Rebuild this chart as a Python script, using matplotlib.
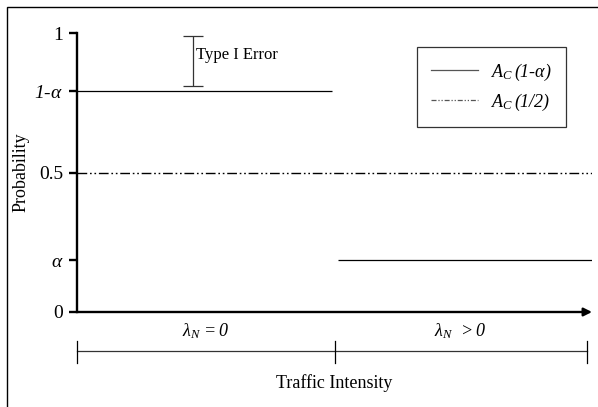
import matplotlib.pyplot as plt
from matplotlib.lines import Line2D
from matplotlib.patches import Rectangle

plt.rcParams['font.family'] = ['Liberation Serif', 'DejaVu Serif']
# every math label in this chart is italic, digits included
plt.rcParams['mathtext.fontset'] = 'custom'
plt.rcParams['mathtext.rm'] = 'Liberation Serif:italic'
plt.rcParams['mathtext.it'] = 'Liberation Serif:italic'

# Data
alpha = 0.186
one_minus_alpha = 0.792
tick_values = [0, alpha, 0.5, one_minus_alpha, 1]
tick_labels = ['0', r'$\alpha$', '0.5', r'$1\text{-}\alpha$', '1']

x_null = [0, 0.99]            # lambda_N = 0
x_alt = [1.015, 2.0]          # lambda_N > 0
y_null = [one_minus_alpha, one_minus_alpha]
y_alt = [alpha, alpha]
x_half = [0, 2.0]
y_half = [0.5, 0.5]

err_x = 0.45
err_lo, err_hi = 0.81, 0.99

region_edges = [0, 1.0, 1.98]
region_labels = [r'$\lambda_N\,=0$', r'$\lambda_N\;\;>0$']
series_names = [r'$A_C\,(1\text{-}\alpha)$', r'$A_C\,(1/2)$']

W, H = 598, 407
fig = plt.figure(figsize=(W / 100, H / 100), dpi=100)
ax = fig.add_axes([77 / W, (H - 312) / H, (592 - 77) / W, (312 - 33) / H])
ax.set_xlim(0, 2)
ax.set_ylim(0, 1)

# outer frame (only top/left visible)
fig.patches.append(Rectangle((7 / W, -0.1), 1.2, 1 - 7 / H + 0.1,
                             transform=fig.transFigure, fill=False,
                             edgecolor='black', linewidth=1.0))

ax.plot(x_null, y_null, color='black', linewidth=0.9, solid_capstyle='butt')
ax.plot(x_alt, y_alt, color='black', linewidth=0.9, solid_capstyle='butt')
ax.plot(x_half, y_half, color='black', linewidth=1.0,
        linestyle=(0, (7, 2, 1.2, 2, 1.2, 2)))

# Type I error bar
ax.errorbar([err_x], [(err_lo + err_hi) / 2], yerr=[[(err_hi - err_lo) / 2]],
            color='#333333', linewidth=0.9, capsize=7, capthick=0.9)
ax.text(err_x + 0.012, 0.92, 'Type I Error', fontsize=12, va='center', ha='left')

# axes
for s in ['top', 'right']:
    ax.spines[s].set_visible(False)
ax.spines['left'].set_linewidth(1.7)
ax.spines['bottom'].set_visible(False)
ax.annotate('', xy=(2.0, 0), xytext=(0, 0),
            arrowprops=dict(arrowstyle='-|>', color='black', lw=1.7,
                            mutation_scale=12, shrinkA=0, shrinkB=0),
            annotation_clip=False)
ax.set_xticks([])
ax.set_yticks(tick_values)
ax.set_yticklabels(tick_labels, fontsize=14)
ax.tick_params(axis='y', length=6, width=1.7, pad=4)
ax.set_ylabel('Probability', fontsize=13)
ax.yaxis.set_label_coords(-0.093, 0.5)

# region bracket below axis
yb = -0.14
ax.plot([region_edges[0], region_edges[-1]], [yb, yb], color='#333333',
        linewidth=0.9, clip_on=False)
for xe in region_edges:
    ax.plot([xe, xe], [yb + 0.037, yb - 0.043], color='black', linewidth=0.9,
            clip_on=False)
for i, lab in enumerate(region_labels):
    xc = (region_edges[i] + region_edges[i + 1]) / 2
    ax.text(xc, -0.068, lab, fontsize=13, ha='center', va='center')
ax.text(1.0, -0.255, 'Traffic Intensity', fontsize=13, ha='center', va='center')

handles = [Line2D([0], [0], color='#555555', linewidth=0.9),
           Line2D([0], [0], color='#555555', linewidth=0.9,
                  linestyle=(0, (4, 1.5, 1, 1.5, 1, 1.5)))]
leg = ax.legend(handles, series_names, loc='upper left',
                bbox_to_anchor=((417 - 77) / 515, 1 - (47 - 33) / 279),
                frameon=True, fancybox=False, edgecolor='black',
                fontsize=13, handlelength=2.6, borderpad=0.8,
                labelspacing=0.5, handletextpad=0.7, borderaxespad=0)
leg.get_frame().set_linewidth(0.9)

fig.savefig('out.png', dpi=100)
